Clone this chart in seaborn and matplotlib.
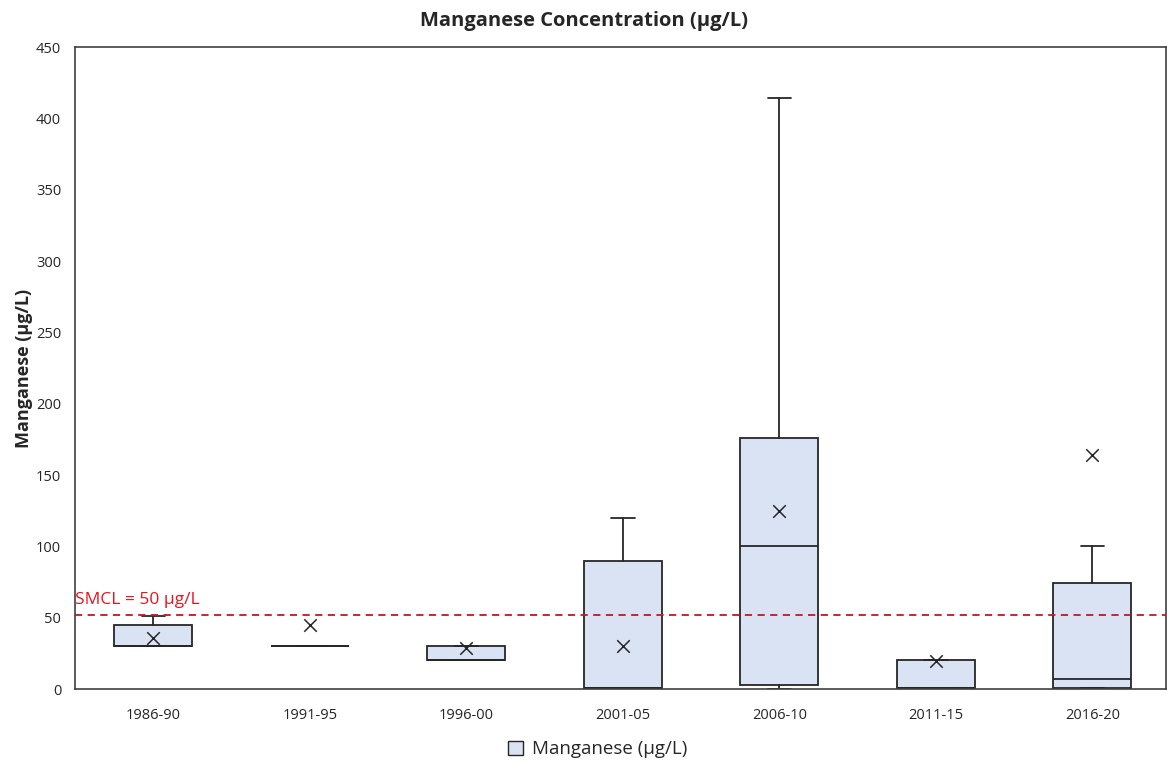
import matplotlib
matplotlib.use("Agg")
import matplotlib.pyplot as plt
import matplotlib.patches as mpatches
import seaborn as sns

# Datos (resumen de cajas estilo Excel)
periodos = ["1986-90", "1991-95", "1996-00", "2001-05", "2006-10", "2011-15", "2016-20"]
minimos = [30, 30, 20, 0, 0, 0.5, 0.5]
q1 = [30, 30, 20, 0.5, 2.5, 1, 1]
medianas = [30, 30, 20, 0.5, 100, 1, 7]
q3 = [45, 30, 30, 90, 176, 20, 74]
maximos = [51, 30, 30, 120, 414, 20, 100]
medias = [36, 45, 28.5, 30, 125, 19.6, 164]
smcl = 52

sns.set_theme(style="white")
plt.rcParams['font.family'] = ['Open Sans', 'DejaVu Sans']

fig = plt.figure(figsize=(11.67, 7.66), dpi=100)
ax = fig.add_axes([0.0643, 0.1005, 0.9347, 0.8381])

# Medias (marcador x)
sns.stripplot(x=periodos, y=medias, marker="x", color="#262626", size=9,
              linewidth=1.1, jitter=False, ax=ax, zorder=5)

stats = []
for i in range(len(periodos)):
    stats.append({"whislo": minimos[i], "q1": q1[i], "med": medianas[i],
                  "q3": q3[i], "whishi": maximos[i], "fliers": []})

ax.bxp(stats, positions=range(len(periodos)), widths=0.5, patch_artist=True,
       showfliers=False, manage_ticks=False, capwidths=0.15,
       boxprops=dict(facecolor="#DAE3F3", edgecolor="#262626", linewidth=1.3),
       medianprops=dict(color="#262626", linewidth=1.3),
       whiskerprops=dict(color="#262626", linewidth=1.3),
       capprops=dict(color="#262626", linewidth=1.3))

# Linea SMCL
ax.axhline(smcl, color="#C8141C", linestyle=(0, (4, 3)), linewidth=1.3, zorder=4)
ax.text(-0.5, smcl + 5, "SMCL = 50 µg/L", color="#E8141C", fontsize=12.5,
        ha="left", va="bottom")

ax.set_xlim(-0.5, 6.47)
ax.set_ylim(0, 450)
ax.set_yticks(range(0, 451, 50))
ax.tick_params(axis="both", labelsize=10.5, colors="#262626", length=0)
ax.tick_params(axis="y", pad=10)
ax.tick_params(axis="x", pad=14)
ax.set_ylabel("Manganese (µg/L)", fontsize=13, fontweight="bold", labelpad=2)
ax.set_xlabel("")
for s in ax.spines.values():
    s.set_color("#404040")
    s.set_linewidth(1.2)

fig.suptitle("Manganese Concentration (µg/L)", fontsize=14.5, fontweight="bold", y=0.985)

handle = mpatches.Patch(facecolor="#DAE3F3", edgecolor="#262626", linewidth=1.0)
fig.legend([handle], ["Manganese (µg/L)"], loc="lower center", bbox_to_anchor=(0.512, -0.012),
           frameon=False, fontsize=13.5, handlelength=0.8, handleheight=0.8,
           handletextpad=0.5)

fig.savefig("out.png", dpi=100)
